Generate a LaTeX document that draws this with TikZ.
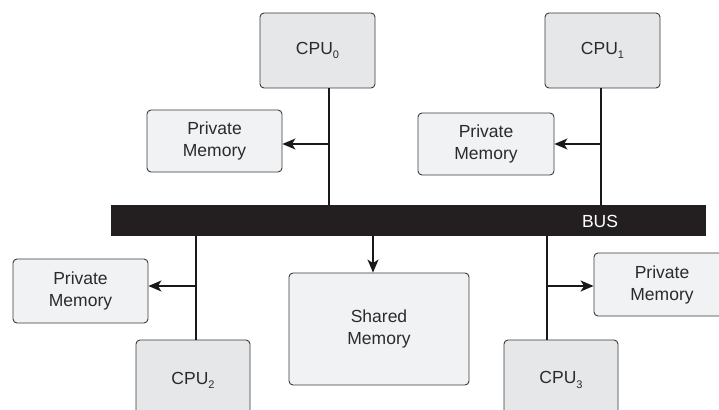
\documentclass[tikz,border=0pt]{standalone}
\usepackage{fontspec}
\setmainfont{Liberation Sans}
\usetikzlibrary{arrows.meta}
\definecolor{cpufill}{HTML}{E6E7E8}
\definecolor{memfill}{HTML}{F1F2F3}
\definecolor{edge}{HTML}{3A3A3C}
\definecolor{busfill}{HTML}{231F20}
\definecolor{ink}{HTML}{2B2B2B}
\tikzset{
  box/.style={draw=edge, line width=0.9pt, rounded corners=4pt, align=center,
    text=ink, font=\fontsize{17.5}{22}\selectfont, inner sep=0pt},
  cpubox/.style={box, fill=cpufill, minimum width=115pt, minimum height=75pt},
  membox/.style={box, fill=memfill, minimum width=135pt, minimum height=62pt},
  wire/.style={draw=black!90, line width=1.4pt},
  feed/.style={wire, -{Stealth[length=13pt,width=11pt,inset=3.5pt]}},
}
\newcommand{\cpulabel}[1]{CPU\raisebox{-0.45ex}{\fontsize{11}{11}\selectfont #1}}
\begin{document}
\begin{tikzpicture}[x=1pt, y=-1pt]
  \useasboundingbox (0,0) rectangle (719,409);
  \clip (0,0) rectangle (719,409);

  % system bus
  \node[fill=busfill, minimum width=595pt, minimum height=31pt, inner sep=0pt]
    (bus) at (408.5,220.5) {};
  \node[text=white, font=\fontsize{17.5}{17.5}\selectfont] (buslabel) at (600,221) {BUS};

  % processors above the bus
  \node[cpubox] (cpu0) at (317.5,50.5) {\cpulabel{0}};
  \node[cpubox] (cpu1) at (602.5,50.5) {\cpulabel{1}};
  \node[membox] (pm0) at (214.5,141) {Private\\Memory};
  \node[membox, minimum width=136pt] (pm1) at (486,144) {Private\\Memory};

  % processors and shared memory below the bus
  \node[cpubox, minimum width=114pt, minimum height=80pt] (cpu2) at (193,380) {\cpulabel{2}};
  \node[cpubox, minimum width=114pt, minimum height=80pt] (cpu3) at (561,380) {\cpulabel{3}};
  \node[membox, minimum height=64pt] (pm2) at (80.5,291) {Private\\Memory};
  \node[membox, minimum width=136pt, minimum height=63pt] (pm3) at (662,284.5) {Private\\Memory};
  \node[box, fill=memfill, minimum width=180pt, minimum height=112pt]
    (shm) at (379,329) {Shared\\Memory};

  % taps on each processor line
  \coordinate (t0) at (329,144);
  \coordinate (t1) at (601,144);
  \coordinate (t2) at (196,286);
  \coordinate (t3) at (547,286);
  \coordinate (ts) at (373,0);

  \draw[wire] (cpu0.south -| t0) -- (bus.north -| t0);
  \draw[feed] (t0) -- (pm0.east |- t0);
  \draw[wire] (cpu1.south -| t1) -- (bus.north -| t1);
  \draw[feed] (t1) -- (pm1.east |- t1);
  \draw[wire] (bus.south -| t2) -- (cpu2.north -| t2);
  \draw[feed] (t2) -- (pm2.east |- t2);
  \draw[wire] (bus.south -| t3) -- (cpu3.north -| t3);
  \draw[feed] (t3) -- (pm3.west |- t3);
  \draw[feed] (bus.south -| ts) -- (shm.north -| ts);
\end{tikzpicture}
\end{document}
